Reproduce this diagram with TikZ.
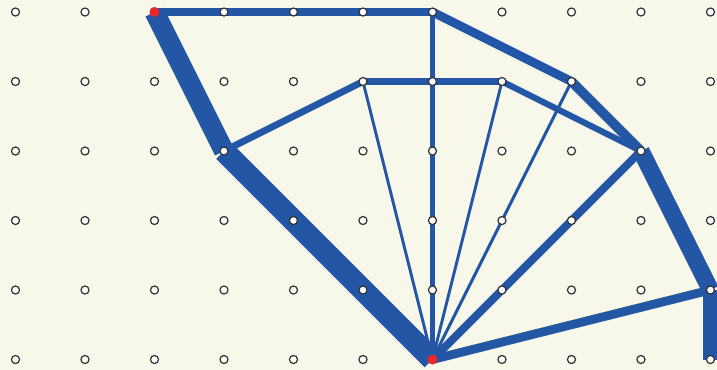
\documentclass[tikz,border=0pt]{standalone}
\usetikzlibrary{calc}
\definecolor{trussblue}{HTML}{2356A5}
\definecolor{paper}{HTML}{F7F8E9}
\definecolor{pinred}{HTML}{E8282B}
\definecolor{rim}{HTML}{333333}

\begin{document}
\begin{tikzpicture}[
 bar/.style={trussblue, line cap=butt},
 dot/.style={circle, draw=rim, fill=white, line width=0.5pt, inner sep=0pt, minimum size=3.3pt},
 pin/.style={circle, fill=pinred, inner sep=0pt, minimum size=4.1pt}]
 % Background
 \fill[paper] (-0.223,-0.144) rectangle (10.094,5.173);
 \useasboundingbox (-0.223,-0.144) rectangle (10.094,5.173);

 % Grid points
 \foreach \i in {0,...,10}
 \foreach \j in {0,...,5}
 \coordinate (g\i-\j) at (\i,\j);

 % Members (from/to/width)
 \foreach \a/\b/\w in {g2-5/g6-5/3.3pt, g2-5/g3-3/8.2pt, g3-3/g6-0/9pt,
 g3-3/g5-4/2.8pt, g5-4/g7-4/2.5pt, g6-5/g6-0/2pt, g6-5/g8-4/3.6pt,
 g8-4/g9-3/4pt, g7-4/g9-3/2.5pt, g5-4/g6-0/1.2pt, g7-4/g6-0/1.2pt,
 g8-4/g6-0/1.2pt, g9-3/g6-0/3.3pt, g9-3/g10-1/7pt, g6-0/g10-1/3.6pt,
 g10-1/g10-0/6.5pt}
 \draw[bar, line width=\w] (\a) -- (\b);

 % Dots
 \foreach \i in {0,...,10}
 \foreach \j in {0,...,5}
 \node[dot] (d\i-\j) at (g\i-\j) {};

 % Supports
 \node[pin] (s1) at (g2-5) {};
 \node[pin] (s2) at (g6-0) {};
\end{tikzpicture}
\end{document}
